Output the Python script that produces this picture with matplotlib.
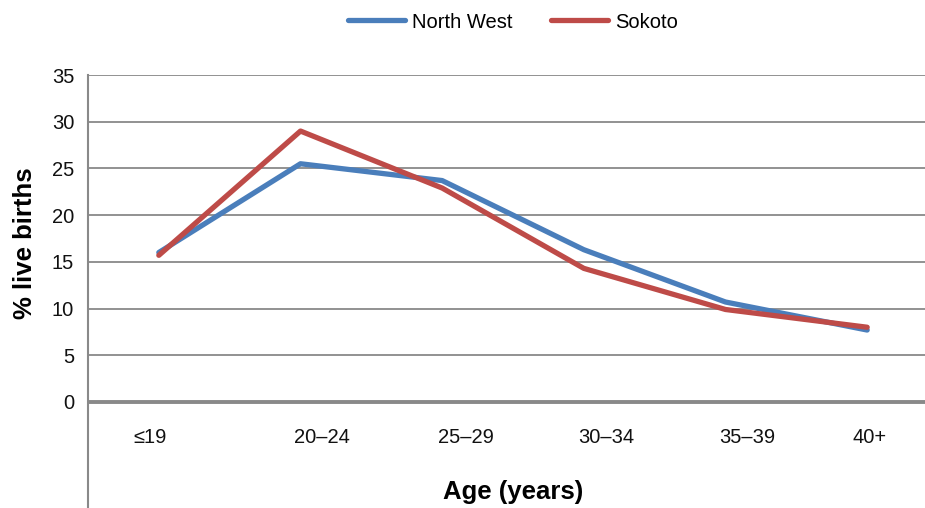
import matplotlib
matplotlib.use("Agg")
import matplotlib.pyplot as plt

# data
age_groups = ["\u226419", "20\u201324", "25\u201329", "30\u201334", "35\u201339", "40+"]
north_west = [16.0, 25.5, 23.7, 16.3, 10.7, 7.7]
sokoto = [15.7, 29.0, 22.9, 14.3, 9.9, 8.0]
y_ticks = [0, 5, 10, 15, 20, 25, 30, 35]

plt.rcParams['font.family'] = ['Liberation Sans', 'DejaVu Sans']

W, H = 925, 508
fig = plt.figure(figsize=(W / 100, H / 100), dpi=100)
# axes runs to the bottom edge so the left spine reaches below the zero line
ax = fig.add_axes([88 / W, 0, 850 / W, (H - 75) / H])

x = list(range(len(age_groups)))
ax.plot(x, north_west, color='#4A7EBB', lw=3.8, solid_capstyle='round',
        label='North West', zorder=3)
ax.plot(x, sokoto, color='#BE4B48', lw=3.8, solid_capstyle='round',
        label='Sokoto', zorder=4)

ax.set_xlim(-0.5, 5.5)
ax.set_ylim(-11.35, 35)

grid_col = '#898989'
for v in y_ticks[1:]:
    ax.axhline(v, color=grid_col, lw=1.3, zorder=1)
ax.axhline(0, color=grid_col, lw=2.8, zorder=1)

for s in ['top', 'right', 'bottom']:
    ax.spines[s].set_visible(False)
ax.spines['left'].set_color(grid_col)
ax.spines['left'].set_linewidth(1.5)

ax.set_yticks(y_ticks)
ax.set_yticklabels([str(v) for v in y_ticks])
ax.tick_params(axis='y', length=0, pad=10, labelsize=14.5, labelcolor='#111111')
ax.set_xticks([])

# category labels sit a little off the points in the original
label_shift = [-0.065, 0.15, 0.17, 0.155, 0.155, 0.02]
for i, lab in enumerate(age_groups):
    ax.text(i + label_shift[i], -3.75, lab, ha='center', va='center',
            fontsize=14.5, color='#111111')

fig.text(513 / W, 1 - 492 / H, 'Age (years)', ha='center', va='center',
         fontsize=18.5, fontweight='bold')
fig.text(25 / W, 1 - 243 / H, '% live births', ha='center', va='center',
         rotation=90, fontsize=18.5, fontweight='bold')

fig.legend(loc='center', bbox_to_anchor=(513 / W, 1 - 22 / H), ncol=2,
           frameon=False, fontsize=14.5, handlelength=2.85,
           handletextpad=0.35, columnspacing=1.9)

fig.savefig('out.png', dpi=100)
